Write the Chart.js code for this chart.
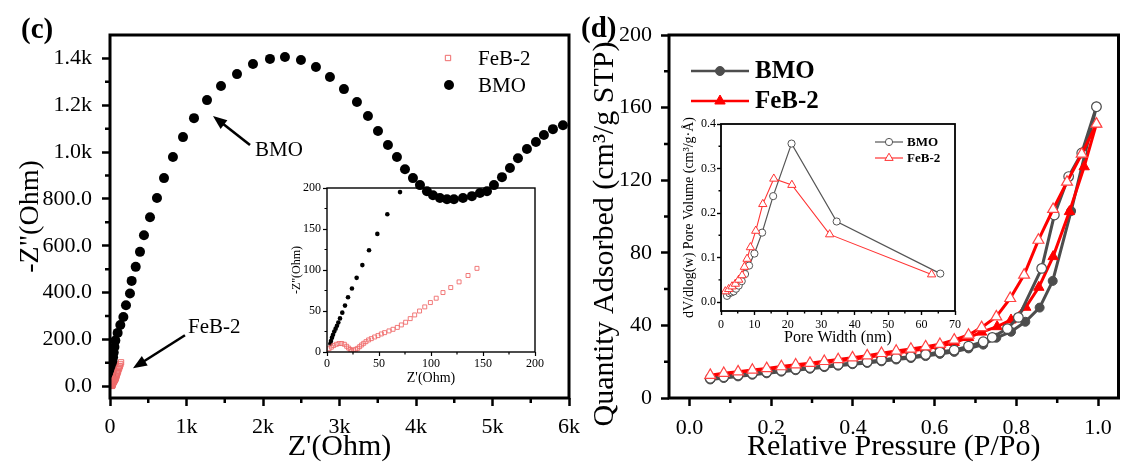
<!DOCTYPE html>
<html>
<head>
<meta charset="utf-8">
<script src="https://cdn.jsdelivr.net/npm/chart.js@4.4.1/dist/chart.umd.min.js"></script>
<style>
  html, body { margin: 0; padding: 0; background: #fff; }
  #wrap { position: relative; width: 1126px; height: 465px; overflow: hidden; }
  #wrap canvas { position: absolute; left: 0; top: 0; }
</style>
</head>
<body>
<div id="wrap">
  <canvas id="cInset" width="1126" height="465"></canvas>
  <canvas id="cMain" width="1126" height="465"></canvas>
  <canvas id="dMain" width="1126" height="465"></canvas>
  <canvas id="dInset" width="1126" height="465"></canvas>
</div>
<script>
'use strict'

// ---- (c) Nyquist data, Z' / -Z'' in Ohm ----
const bmoZre = [3.2, 3.8, 4.8, 5.8, 7.0, 8.3, 9.6, 10.9, 12.5, 14.7, 17.3, 20.2, 24.0, 28.5, 34.0, 40.4, 48.4, 58.0, 70.2, 100,
	135, 175, 209, 261, 283, 336, 392, 444, 523, 614, 706, 823, 954, 1098, 1268, 1451, 1660, 1869, 2091, 2287,
	2496, 2692, 2875, 3058, 3228, 3372, 3503, 3633, 3751, 3856, 3960, 4052, 4143, 4222, 4313, 4405, 4496, 4614, 4731, 4836,
	4928, 5019, 5124, 5228, 5333, 5450, 5568, 5672, 5790, 5921];
const bmoZim = [10, 13.4, 17.5, 21, 25, 28.5, 32, 36, 41, 48, 56.6, 66.8, 77.4, 90.4, 106, 124, 144, 168, 195, 228,
	262, 296, 346, 396, 450, 510, 574, 645, 722, 804, 889, 979, 1064, 1145, 1222, 1282, 1333, 1376, 1398, 1406,
	1393, 1363, 1321, 1269, 1214, 1154, 1090, 1030, 979, 927, 889, 859, 833, 816, 804, 799, 799, 804, 812, 825,
	833, 859, 893, 932, 974, 1013, 1043, 1073, 1098, 1115];
const febZre = [2.0, 4.2, 6.4, 9.0, 11.5, 14.1, 16.7, 18.9, 20.8, 22.4, 23.7, 25.6, 27.6, 29.5, 31.4, 33.3, 35.3, 37.5, 40.0, 42.6,
	45.8, 49.0, 52.2, 55.4, 59.6, 63.5, 67.6, 71.5, 75.6, 80.0, 84.3, 89.0, 94.0, 99.4, 105.0, 111.5, 119.0, 127.0, 135.6, 144.2];
const febZim = [4.0, 5.9, 7.8, 9.4, 10.3, 10.4, 9.4, 7.0, 4.8, 3.0, 1.6, 2.4, 3.3, 4.5, 6.5, 8.6, 10.6, 12.6, 14.7, 16.3,
	18.3, 20.0, 22.0, 23.6, 25.7, 27.7, 30.0, 33.0, 36.3, 40.7, 45.2, 50.0, 55.0, 60.3, 65.6, 72.5, 78.6, 85.5, 93.3, 102.0];

const cXTicks = [0, 1000, 2000, 3000, 4000, 5000, 6000];
const cXLabels = ['0', '1k', '2k', '3k', '4k', '5k', '6k'];
const cYTicks = [0, 200, 400, 600, 800, 1000, 1200, 1400];
const cYLabels = ['0.0', '200.0', '400.0', '600.0', '800.0', '1.0k', '1.2k', '1.4k'];
const cInTicks = [0, 50, 100, 150, 200];
const cInLabels = ['0', '50', '100', '150', '200'];

// ---- (d) N2 isotherms, P/Po vs cm3/g STP ----
const bmoDesP = [0.051, 0.084, 0.119, 0.154, 0.189, 0.225, 0.260, 0.295, 0.330, 0.364, 0.399, 0.435, 0.470, 0.506,
	0.542, 0.578, 0.613, 0.648, 0.683, 0.719, 0.741, 0.778, 0.805, 0.862, 0.893, 0.928, 0.960, 0.996];
const bmoDesQ = [10.8, 11.7, 12.6, 13.5, 14.3, 15.2, 16.0, 16.8, 17.7, 18.5, 19.3, 20.0, 20.9, 22.0,
	22.8, 24.0, 25.3, 26.4, 28.6, 31.0, 33.4, 38.2, 44.4, 71.4, 100.8, 122.0, 135.0, 160.5];
const bmoAdsP = [0.051, 0.084, 0.119, 0.154, 0.189, 0.225, 0.260, 0.295, 0.330, 0.364, 0.399, 0.435, 0.470, 0.506,
	0.542, 0.578, 0.613, 0.648, 0.683, 0.719, 0.751, 0.787, 0.822, 0.857, 0.889, 0.934, 0.996];
const bmoAdsQ = [10.2, 11.0, 11.9, 12.8, 13.6, 14.5, 15.3, 16.1, 17.0, 17.8, 18.6, 19.3, 20.2, 21.2,
	22.0, 23.1, 24.3, 25.4, 27.3, 29.4, 33.2, 36.5, 42.0, 49.8, 64.5, 103.0, 160.5];
const febDesP = [0.051, 0.084, 0.119, 0.154, 0.189, 0.225, 0.260, 0.295, 0.330, 0.364, 0.399, 0.435, 0.470, 0.506,
	0.542, 0.578, 0.613, 0.648, 0.683, 0.715, 0.751, 0.785, 0.819, 0.854, 0.890, 0.924, 0.960, 0.996];
const febDesQ = [12.6, 13.6, 14.5, 15.4, 16.3, 17.3, 18.3, 19.2, 20.2, 21.2, 22.2, 23.3, 24.6, 25.9,
	27.0, 28.3, 29.6, 32.0, 34.7, 38.9, 44.8, 54.9, 67.8, 87.0, 104.0, 119.0, 134.4, 151.0];
const febAdsP = [0.051, 0.084, 0.119, 0.154, 0.189, 0.225, 0.260, 0.295, 0.330, 0.364, 0.399, 0.435, 0.470, 0.506,
	0.542, 0.578, 0.613, 0.648, 0.683, 0.715, 0.753, 0.787, 0.823, 0.855, 0.890, 0.930, 0.966, 0.996];
const febAdsQ = [11.8, 12.8, 13.7, 14.6, 15.5, 16.5, 17.5, 18.4, 19.4, 20.4, 21.4, 22.4, 23.6, 24.8,
	25.9, 27.1, 28.4, 30.6, 33.3, 36.3, 39.3, 43.0, 50.0, 61.0, 77.9, 102.7, 127.4, 151.0];

// pore size distribution (inset d)
const poreBmoW = [1.8, 2.5, 3.2, 3.8, 4.5, 5.3, 6.2, 7.2, 8.4, 10.0, 12.3, 15.6, 21.1, 34.6, 65.6];
const poreBmoV = [0.014, 0.020, 0.022, 0.024, 0.030, 0.037, 0.047, 0.063, 0.082, 0.109, 0.156, 0.238, 0.356, 0.181, 0.064];
const poreFebW = [1.3, 2.3, 3.3, 4.3, 5.3, 6.3, 7.0, 7.8, 8.8, 10.4, 12.5, 15.8, 21.2, 32.5, 63.0];
const poreFebV = [0.024, 0.029, 0.035, 0.041, 0.050, 0.060, 0.079, 0.097, 0.123, 0.160, 0.220, 0.277, 0.263, 0.152, 0.062];

const dXTicks = [0, 0.2, 0.4, 0.6, 0.8, 1.0];
const dXLabels = ['0.0', '0.2', '0.4', '0.6', '0.8', '1.0'];
const dYTicks = [0, 40, 80, 120, 160, 200];
const dYLabels = ['0', '40', '80', '120', '160', '200'];
const poreXTicks = [0, 10, 20, 30, 40, 50, 60, 70];
const poreXLabels = ['0', '10', '20', '30', '40', '50', '60', '70'];
const poreYTicks = [0, 0.1, 0.2, 0.3, 0.4];
const poreYLabels = ['0.0', '0.1', '0.2', '0.3', '0.4'];

// ---------------------------------------------------------------
const W = 1126, H = 465;
const SERIF = "'Liberation Serif', 'Times New Roman', serif";
const PINK = '#ef6b6b';
const GRAY = '#4d4d4d';
const RED = '#ff0000';

Chart.defaults.font.family = SERIF;
Chart.defaults.color = '#000';

const pts = (xs, ys) => xs.map((x, i) => ({ x: x, y: ys[i] }));

// frame = [left, top, right, bottom] of the plot box in page pixels
function pin(frame, yw, xh) {
	return { left: frame[0] - yw, top: frame[1], right: W - frame[2], bottom: H - frame[3] - xh };
}

function axis(s) {
	return {
		type: 'linear',
		position: s.pos === 'x' ? 'bottom' : 'left',
		min: s.min,
		max: s.max,
		afterBuildTicks: sc => { sc.ticks = s.ticks.map(v => ({ value: v })); },
		afterFit: sc => { if (s.pos === 'x') sc.height = s.size; else sc.width = s.size; },
		border: { display: false },
		grid: { drawOnChartArea: false, drawTicks: true, tickLength: s.tl, tickWidth: s.tw, tickColor: '#000' },
		ticks: {
			autoSkip: false, maxRotation: 0, minRotation: 0, padding: s.tpad, color: '#000',
			font: { family: SERIF, size: s.fs },
			callback: (v, i) => s.labels[i],
		},
		title: {
			display: !!s.title, text: s.title || '', color: '#000',
			font: { family: SERIF, size: s.titleSize },
			padding: s.pos === 'x' ? { top: 0, bottom: s.titlePad } : { top: s.titlePad, bottom: 0 },
		},
	};
}

function text(ctx, s, x, y, size, bold) {
	ctx.font = (bold ? 'bold ' : '') + size + 'px ' + SERIF;
	ctx.fillStyle = '#000';
	ctx.textAlign = 'left';
	ctx.textBaseline = 'middle';
	ctx.fillText(s, x, y);
}

function marker(ctx, style, r, x, y, fill, stroke, lw) {
	ctx.fillStyle = fill;
	ctx.strokeStyle = stroke;
	ctx.lineWidth = lw;
	Chart.helpers.drawPoint(ctx, { pointStyle: style, radius: r, rotation: 0, borderWidth: lw }, x, y);
}

function arrow(ctx, x1, y1, x2, y2) {
	const a = Math.atan2(y2 - y1, x2 - x1), L = 14, hw = 5.5;
	const c = Math.cos(a), s = Math.sin(a);
	ctx.strokeStyle = '#000';
	ctx.fillStyle = '#000';
	ctx.lineWidth = 2.6;
	ctx.beginPath();
	ctx.moveTo(x1, y1);
	ctx.lineTo(x2 - L * 0.7 * c, y2 - L * 0.7 * s);
	ctx.stroke();
	ctx.beginPath();
	ctx.moveTo(x2, y2);
	ctx.lineTo(x2 - L * c + hw * s, y2 - L * s - hw * c);
	ctx.lineTo(x2 - L * c - hw * s, y2 - L * s + hw * c);
	ctx.closePath();
	ctx.fill();
}

function legendLine(ctx, x1, x2, y, color, lw) {
	ctx.strokeStyle = color;
	ctx.lineWidth = lw;
	ctx.beginPath();
	ctx.moveTo(x1, y);
	ctx.lineTo(x2, y);
	ctx.stroke();
}

// box, minor ticks and free text for each panel
function decor(cfg) {
	return {
		id: 'decor',
		afterDraw(chart) {
			const { ctx, chartArea: a, scales } = chart;
			ctx.save();
			ctx.strokeStyle = '#000';
			ctx.lineWidth = cfg.tw;
			ctx.beginPath();
			cfg.minorX.forEach(v => {
				const x = scales.x.getPixelForValue(v);
				ctx.moveTo(x, a.bottom);
				ctx.lineTo(x, a.bottom + cfg.ml);
			});
			cfg.minorY.forEach(v => {
				const y = scales.y.getPixelForValue(v);
				ctx.moveTo(a.left, y);
				ctx.lineTo(a.left - cfg.ml, y);
			});
			ctx.stroke();
			ctx.lineWidth = cfg.frame;
			ctx.strokeRect(a.left, a.top, a.right - a.left, a.bottom - a.top);
			if (cfg.extra) cfg.extra(chart, ctx);
			ctx.restore();
		},
	};
}

const base = {
	responsive: false,
	animation: false,
	events: [],
	plugins: { legend: { display: false }, tooltip: { enabled: false } },
};

// ---------------- (c) inset ----------------
new Chart(document.getElementById('cInset'), {
	type: 'scatter',
	data: {
		datasets: [
			{ data: pts(febZre, febZim), pointStyle: 'rect', pointRadius: 2.8, pointBackgroundColor: 'rgba(255,255,255,0)', pointBorderColor: PINK, pointBorderWidth: 0.9 },
			{ data: pts(bmoZre, bmoZim), pointStyle: 'circle', pointRadius: 2.3, pointBackgroundColor: '#000', pointBorderColor: '#000', pointBorderWidth: 0 },
		],
	},
	options: {
		...base,
		layout: { padding: pin([327, 188, 535, 352], 40, 36) },
		scales: {
			x: axis({ pos: 'x', min: 0, max: 200, ticks: cInTicks, labels: cInLabels, size: 36, tl: 4, tw: 1.2, tpad: 1, fs: 12, title: "Z'(Ohm)", titleSize: 14, titlePad: 1.6 }),
			y: axis({ pos: 'y', min: 0, max: 200, ticks: cInTicks, labels: cInLabels, size: 40, tl: 4, tw: 1.2, tpad: 2, fs: 12, title: '-Z"(Ohm)', titleSize: 12, titlePad: 3 }),
		},
	},
	plugins: [decor({ frame: 1.4, tw: 1.2, ml: 2.5, minorX: [25, 75, 125, 175], minorY: [25, 75, 125, 175] })],
});

// ---------------- (c) main ----------------
new Chart(document.getElementById('cMain'), {
	type: 'scatter',
	data: {
		datasets: [
			{ label: 'FeB-2', data: pts(febZre, febZim), pointStyle: 'rect', pointRadius: 3.8, pointBackgroundColor: 'rgba(255,255,255,0)', pointBorderColor: PINK, pointBorderWidth: 1 },
			{ label: 'BMO', data: pts(bmoZre, bmoZim), pointStyle: 'circle', pointRadius: 5, pointBackgroundColor: '#000', pointBorderColor: '#000', pointBorderWidth: 0 },
		],
	},
	options: {
		...base,
		layout: { padding: pin([110, 35, 569, 398], 110, 67) },
		scales: {
			x: axis({ pos: 'x', min: 0, max: 6000, ticks: cXTicks, labels: cXLabels, size: 67, tl: 8, tw: 2.5, tpad: 8, fs: 22, title: "Z'(Ohm)", titleSize: 30, titlePad: 0 }),
			y: axis({ pos: 'y', min: -50, max: 1500, ticks: cYTicks, labels: cYLabels, size: 110, tl: 8, tw: 2.5, tpad: 10, fs: 22, title: '-Z"(Ohm)', titleSize: 28, titlePad: 14 }),
		},
	},
	plugins: [decor({
		frame: 3, tw: 2.5, ml: 5,
		minorX: [500, 1500, 2500, 3500, 4500, 5500],
		minorY: [100, 300, 500, 700, 900, 1100, 1300],
		extra(chart, ctx) {
			const sx = chart.scales.x, sy = chart.scales.y;
			text(ctx, '(c)', 21, 31, 29, true);
			marker(ctx, 'rect', 3.8, 448, 58, 'rgba(255,255,255,0)', PINK, 1);
			text(ctx, 'FeB-2', 478, 59, 21);
			marker(ctx, 'circle', 5, 449, 85, '#000', '#000', 0);
			text(ctx, 'BMO', 478, 86, 21);
			arrow(ctx, sx.getPixelForValue(1830), sy.getPixelForValue(1030), sx.getPixelForValue(1346), sy.getPixelForValue(1154));
			text(ctx, 'BMO', sx.getPixelForValue(1895), sy.getPixelForValue(1005), 21);
			arrow(ctx, sx.getPixelForValue(980), sy.getPixelForValue(218), sx.getPixelForValue(300), sy.getPixelForValue(77));
			text(ctx, 'FeB-2', sx.getPixelForValue(1020), sy.getPixelForValue(252), 21);
		},
	})],
});

// ---------------- (d) main ----------------
new Chart(document.getElementById('dMain'), {
	type: 'scatter',
	data: {
		datasets: [
			{ label: 'FeB-2 des', data: pts(febDesP, febDesQ), showLine: true, borderColor: RED, borderWidth: 3, pointStyle: 'triangle', pointRadius: 6.3, pointBackgroundColor: '#fff', pointBorderColor: '#ff4444', pointBorderWidth: 1.2 },
			{ label: 'BMO des', data: pts(bmoDesP, bmoDesQ), showLine: true, borderColor: GRAY, borderWidth: 3, pointStyle: 'circle', pointRadius: 4.8, pointBackgroundColor: '#fff', pointBorderColor: GRAY, pointBorderWidth: 1.2 },
			{ label: 'FeB-2 ads', data: pts(febAdsP, febAdsQ), showLine: true, borderColor: RED, borderWidth: 3, pointStyle: 'triangle', pointRadius: 6, pointBackgroundColor: RED, pointBorderColor: RED, pointBorderWidth: 1 },
			{ label: 'BMO ads', data: pts(bmoAdsP, bmoAdsQ), showLine: true, borderColor: GRAY, borderWidth: 3, pointStyle: 'circle', pointRadius: 4.5, pointBackgroundColor: GRAY, pointBorderColor: GRAY, pointBorderWidth: 1 },
		],
	},
	options: {
		...base,
		layout: { padding: pin([669, 35, 1124, 398], 89, 67) },
		scales: {
			x: axis({ pos: 'x', min: -0.05, max: 1.05, ticks: dXTicks, labels: dXLabels, size: 67, tl: 8, tw: 2.5, tpad: 9, fs: 22, title: 'Relative Pressure (P/Po)', titleSize: 30, titlePad: 0 }),
			// y title drawn below in the plugin: in the original it sits lower than the axis centre
			y: axis({ pos: 'y', min: 0, max: 200, ticks: dYTicks, labels: dYLabels, size: 89, tl: 8, tw: 2.5, tpad: 9, fs: 22 }),
		},
	},
	plugins: [decor({
		frame: 3, tw: 2.5, ml: 5,
		minorX: [0.1, 0.3, 0.5, 0.7, 0.9],
		minorY: [20, 60, 100, 140, 180],
		extra(chart, ctx) {
			ctx.save();
			ctx.translate(605, 234);
			ctx.rotate(-Math.PI / 2);
			ctx.font = '30px ' + SERIF;
			ctx.fillStyle = '#000';
			ctx.textAlign = 'center';
			ctx.textBaseline = 'middle';
			ctx.fillText('Quantity Adsorbed (cm³/g STP)', 0, 0);
			ctx.restore();
			text(ctx, '(d)', 581, 30, 29, true);
			legendLine(ctx, 691, 749, 71, GRAY, 2.5);
			marker(ctx, 'circle', 4.5, 720, 71, GRAY, GRAY, 1);
			text(ctx, 'BMO', 755, 72, 25, true);
			legendLine(ctx, 691, 749, 101, RED, 2.5);
			marker(ctx, 'triangle', 6, 720, 101, RED, RED, 1);
			text(ctx, 'FeB-2', 755, 102, 25, true);
		},
	})],
});

// ---------------- (d) inset ----------------
new Chart(document.getElementById('dInset'), {
	type: 'scatter',
	data: {
		datasets: [
			{ label: 'FeB-2', data: pts(poreFebW, poreFebV), showLine: true, borderColor: '#ff3333', borderWidth: 1.1, pointStyle: 'triangle', pointRadius: 4.8, pointBackgroundColor: '#fff', pointBorderColor: '#ff3333', pointBorderWidth: 1 },
			{ label: 'BMO', data: pts(poreBmoW, poreBmoV), showLine: true, borderColor: '#555', borderWidth: 1.2, pointStyle: 'circle', pointRadius: 3.6, pointBackgroundColor: '#fff', pointBorderColor: '#555', pointBorderWidth: 1 },
		],
	},
	options: {
		...base,
		layout: { padding: pin([721, 124, 955, 311], 41, 36) },
		scales: {
			x: axis({ pos: 'x', min: 0, max: 70, ticks: poreXTicks, labels: poreXLabels, size: 36, tl: 4, tw: 1.4, tpad: 3, fs: 12, title: 'Pore Width (nm)', titleSize: 16, titlePad: 0 }),
			y: axis({ pos: 'y', min: -0.02, max: 0.4, ticks: poreYTicks, labels: poreYLabels, size: 41, tl: 4, tw: 1.4, tpad: 1, fs: 12, title: 'dV/dlog(w) Pore Volume (cm³/g·Å)', titleSize: 14, titlePad: 1 }),
		},
	},
	plugins: [decor({
		frame: 1.8, tw: 1.4, ml: 2.5,
		minorX: [5, 15, 25, 35, 45, 55, 65],
		minorY: [0.05, 0.15, 0.25, 0.35],
		extra(chart, ctx) {
			legendLine(ctx, 875, 903, 142, '#555', 1.2);
			marker(ctx, 'circle', 3.6, 889, 142, '#fff', '#555', 1);
			text(ctx, 'BMO', 907, 143, 13, true);
			legendLine(ctx, 875, 903, 158, '#ff3333', 1.2);
			marker(ctx, 'triangle', 4.8, 889, 158, '#fff', '#ff3333', 1);
			text(ctx, 'FeB-2', 907, 159, 13, true);
		},
	})],
});
</script>
</body>
</html>
